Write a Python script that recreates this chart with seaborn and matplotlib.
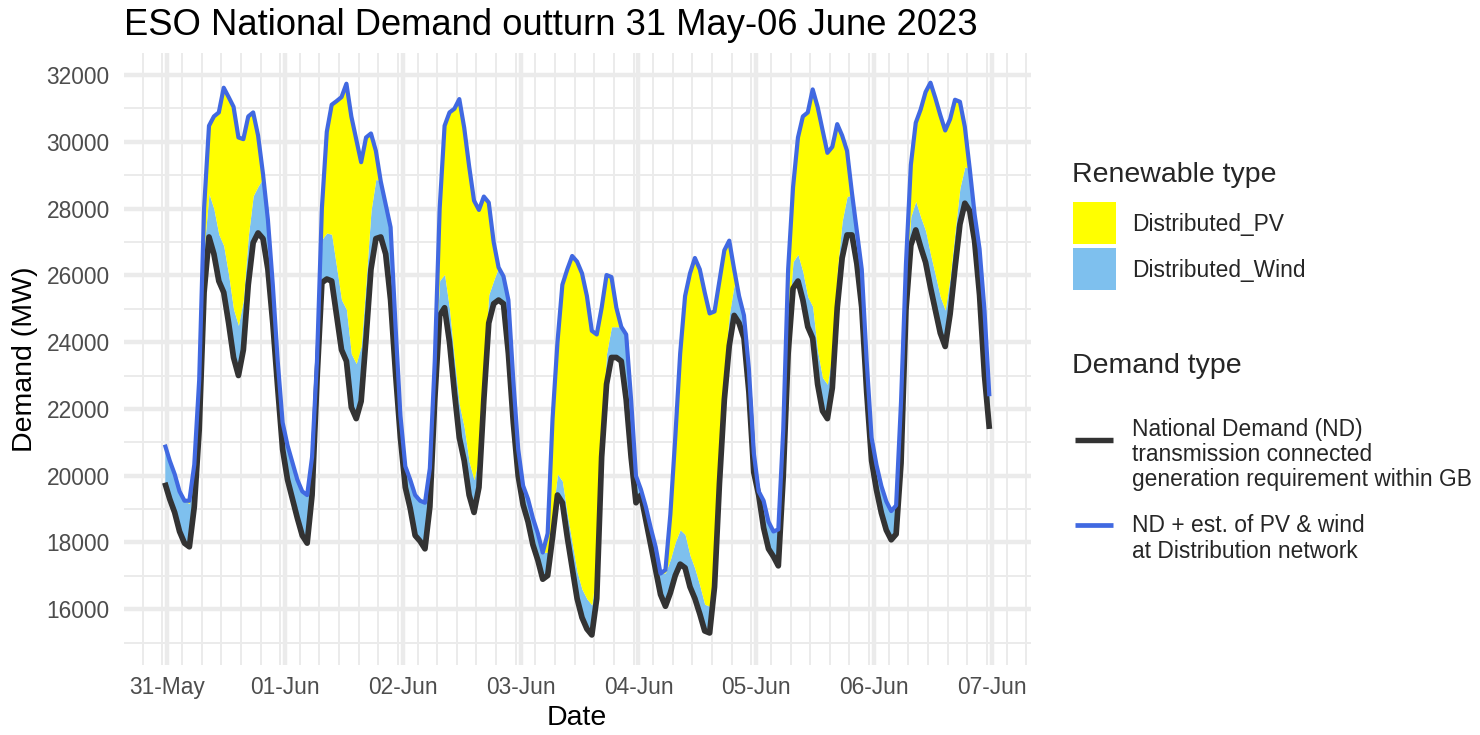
import numpy as np
import pandas as pd
import matplotlib
matplotlib.use("Agg")
import matplotlib.pyplot as plt
import matplotlib.dates as mdates
from matplotlib.ticker import MultipleLocator, FuncFormatter
from matplotlib.patches import Rectangle
from matplotlib.lines import Line2D
import seaborn as sns

sns.set_theme(style="white")
plt.rcParams['font.family'] = ['Liberation Sans', 'DejaVu Sans']

# hourly readings, first point 30 May 23:30, then one row per day (00:30 ... 23:30)
start = "2023-05-30 23:30"

# National Demand (MW)
nd = [19790,
      19300, 18900, 18330, 17980, 17870, 19070, 21370, 25490, 27150, 26640, 25830, 25490,
      24570, 23540, 23000, 23770, 25720, 26980, 27270, 27100, 26180, 24570, 22630, 20790,
      19880, 19300, 18730, 18210, 17980, 19420, 22860, 25780, 25890, 25830, 24800, 23770,
      23430, 22050, 21710, 22230, 24120, 26180, 27100, 27150, 26640, 25260, 23080, 21140,
      19650, 19020, 18210, 18040, 17810, 19070, 22280, 24800, 25030, 24000, 22510, 21140,
      20450, 19420, 18900, 19650, 22280, 24570, 25150, 25260, 25150, 23660, 21590, 19990,
      19130, 18620, 17930, 17470, 16900, 17010, 18160, 19420, 19190, 18160, 17240, 16320,
      15750, 15410, 15230, 16320, 20560, 22740, 23540, 23540, 23430, 22280, 20560, 19190,
      19420, 18670, 17930, 17180, 16440, 16090, 16490, 17010, 17350, 17240, 16670, 16320,
      15860, 15350, 15290, 16670, 19760, 22280, 23890, 24800, 24570, 24120, 22510, 20100,
      19420, 18440, 17810, 17580, 17300, 19990, 23660, 25610, 25830, 25260, 24460, 24120,
      22740, 21940, 21710, 22630, 25030, 26520, 27210, 27210, 26350, 25030, 22510, 20450,
      19570, 18880, 18370, 18080, 18250, 20370, 24960, 26900, 27360, 26850, 26390, 25640,
      24960, 24270, 23870, 24840, 26220, 27530, 28160, 27930, 27020, 25410, 23010, 21400]

# ND + est. of PV & wind at distribution network (MW)
nd_plus_dist = [20930,
      20450, 20050, 19530, 19250, 19250, 20330, 22860, 28010, 30480, 30760, 30880, 31620,
      31340, 31050, 30130, 30080, 30760, 30880, 30190, 29040, 27670, 25720, 23430, 21590,
      20910, 20390, 19880, 19530, 19420, 20560, 23430, 28010, 30300, 31110, 31220, 31340,
      31740, 30760, 30080, 29390, 30130, 30250, 29730, 28810, 28130, 27440, 24500, 21800,
      20280, 19880, 19420, 19250, 19190, 20220, 23430, 28010, 30480, 30880, 30990, 31280,
      30420, 29270, 28240, 27960, 28360, 28180, 27000, 26240, 25970, 25260, 22860, 20790,
      19700, 19300, 18730, 18270, 17700, 18270, 21710, 24000, 25720, 26180, 26580, 26410,
      26060, 25380, 24340, 24230, 25030, 26010, 25950, 25030, 24460, 24230, 22280, 19990,
      19590, 19070, 18440, 17870, 17070, 17180, 18840, 21140, 23660, 25380, 26060, 26520,
      26180, 25490, 24860, 24920, 25830, 26750, 27040, 26180, 25380, 24800, 23200, 20680,
      19530, 19250, 18620, 18330, 18390, 21370, 26180, 28640, 30130, 30760, 30880, 31570,
      31050, 30360, 29670, 29850, 30530, 30190, 29730, 28470, 27320, 26180, 23430, 21140,
      20320, 19690, 19230, 18940, 19110, 22210, 26330, 29310, 30570, 30970, 31490, 31770,
      31310, 30800, 30340, 30680, 31260, 31200, 30450, 29190, 27820, 26790, 24960, 22380]

# distributed wind (MW)
dist_wind = [1150,
      1150, 1150, 1200, 1260, 1300, 1260, 1300, 1300, 1300, 1350, 1400, 1400,
      1450, 1450, 1500, 1500, 1450, 1400, 1400, 1800, 1500, 1150, 800, 800,
      1030, 1090, 1150, 1320, 1440, 1150, 1200, 1300, 1380, 1400, 1450, 1500,
      1550, 1600, 1650, 1650, 1700, 1750, 1780, 1800, 1800, 2180, 1420, 660,
      630, 860, 1200, 1200, 1380, 1150, 1100, 1050, 1000, 1000, 1000, 1000,
      1000, 1000, 980, 950, 900, 850, 700, 1000, 900, 1600, 1270, 800,
      570, 690, 800, 800, 800, 700, 650, 630, 650, 700, 750, 800,
      850, 900, 900, 920, 920, 920, 920, 920, 1030, 1950, 1720, 800,
      170, 400, 510, 690, 630, 1000, 1000, 1000, 1030, 1000, 950, 900,
      850, 800, 800, 850, 900, 900, 920, 920, 800, 690, 690, 580,
      110, 800, 800, 750, 1090, 1000, 900, 800, 800, 850, 900, 950,
      1000, 1000, 1030, 1050, 1100, 1100, 1150, 1200, 970, 1150, 920, 690,
      750, 810, 860, 860, 860, 860, 860, 860, 860, 900, 950, 1000,
      1050, 1090, 1090, 1090, 1090, 1090, 1090, 1260, 800, 1380, 1950, 980]

df = pd.DataFrame({"time": pd.date_range(start, periods=len(nd), freq="h"),
                   "nd": nd, "total": nd_plus_dist, "wind": dist_wind})
df["wind_top"] = np.minimum(df["nd"] + df["wind"], df["total"])

W, H = 1480, 735
def fx(px):
    return px / W
def fy(py):
    return 1 - py / H

fig = plt.figure(figsize=(W / 100, H / 100), dpi=100)
ax = fig.add_axes([fx(123.6), fy(665), (1030.6 - 123.6) / W, (665 - 53) / H])

# stacked areas: wind on top of ND, PV on top of wind
ax.fill_between(df["time"], df["nd"], df["wind_top"], color="#7EC0EE", lw=0)
ax.fill_between(df["time"], df["wind_top"], df["total"], color="#FFFF00", lw=0)

sns.lineplot(data=df, x="time", y="nd", color="#333333", lw=4.1, ax=ax,
             solid_capstyle="butt")
sns.lineplot(data=df, x="time", y="total", color="#4169E1", lw=3.0, ax=ax,
             solid_capstyle="butt")

t0 = pd.Timestamp("2023-05-31 00:00")
ax.set_xlim(t0 - pd.Timedelta(hours=8.9), t0 + pd.Timedelta(hours=175.9))
ax.set_ylim(14330, 32660)

ax.xaxis.set_major_locator(mdates.DayLocator())
ax.xaxis.set_major_formatter(mdates.DateFormatter("%d-%b"))
ax.xaxis.set_minor_locator(mdates.HourLocator(byhour=[3, 7, 11, 15, 19, 23]))
ax.yaxis.set_major_locator(MultipleLocator(2000))
ax.yaxis.set_minor_locator(MultipleLocator(1000))
ax.yaxis.set_major_formatter(FuncFormatter(lambda v, p: f"{v:.0f}"))

ax.grid(which="major", color="#EBEBEB", lw=3.2)
ax.grid(which="minor", color="#EBEBEB", lw=1.4)
ax.set_axisbelow(True)
for s in ax.spines.values():
    s.set_visible(False)
ax.tick_params(which="both", length=0, labelsize=16.4, labelcolor="#4D4D4D")
ax.tick_params(axis="y", pad=10)
ax.tick_params(axis="x", pad=8)

ax.set_xlabel("Date", fontsize=20.5, color="black", labelpad=4)
ax.set_ylabel("Demand (MW)", fontsize=20.5, color="black", labelpad=6)
ax.set_title("ESO National Demand outturn 31 May-06 June 2023", loc="left",
             fontsize=26.2, color="black", pad=13)

# legends
fig.text(fx(1072), fy(182), "Renewable type", fontsize=20.5, va="baseline")
fig.add_artist(Rectangle((fx(1073), fy(244)), 42.5 / W, 42.5 / H,
                         transform=fig.transFigure, facecolor="#FFFF00", edgecolor="none"))
fig.add_artist(Rectangle((fx(1073), fy(290)), 42.5 / W, 42.5 / H,
                         transform=fig.transFigure, facecolor="#7EC0EE", edgecolor="none"))
fig.text(fx(1132), fy(231.5), "Distributed_PV", fontsize=16.4, va="baseline")
fig.text(fx(1132), fy(277.5), "Distributed_Wind", fontsize=16.4, va="baseline")

fig.text(fx(1072), fy(373), "Demand type", fontsize=20.5, va="baseline")
fig.add_artist(Line2D([fx(1075), fx(1113)], [fy(440), fy(440)], transform=fig.transFigure,
                      color="#333333", lw=3.9, solid_capstyle="butt"))
fig.add_artist(Line2D([fx(1075), fx(1113)], [fy(525), fy(525)], transform=fig.transFigure,
                      color="#4169E1", lw=3.4, solid_capstyle="butt"))
# multi-line texts are anchored on the baseline of their last line
fig.text(fx(1132), fy(486),
         "National Demand (ND)\ntransmission connected\ngeneration requirement within GB",
         fontsize=16.4, va="baseline", linespacing=1.12)
fig.text(fx(1132), fy(557.5), "ND + est. of PV & wind\nat Distribution network",
         fontsize=16.4, va="baseline", linespacing=1.12)

fig.savefig("out.png", dpi=100)
